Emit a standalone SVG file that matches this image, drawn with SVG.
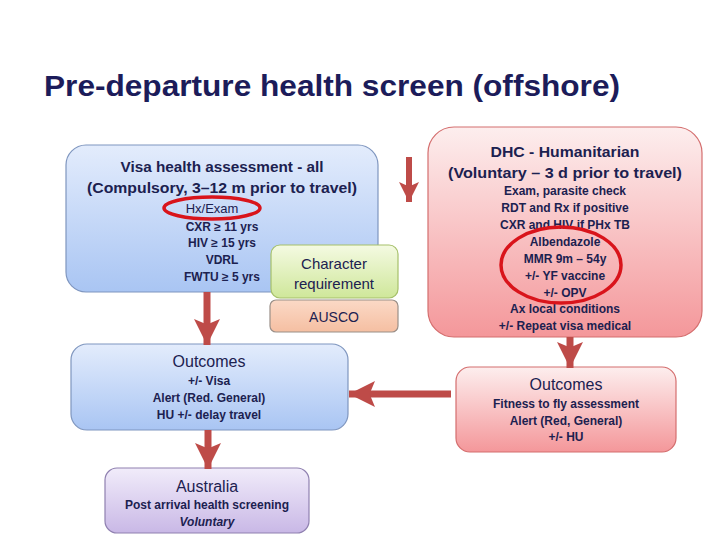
<svg xmlns="http://www.w3.org/2000/svg" width="720" height="540" viewBox="0 0 720 540">
<defs>
<linearGradient id="gBlue" x1="0" y1="0" x2="0" y2="1"><stop offset="0" stop-color="#e3ecfc"/><stop offset="1" stop-color="#a9c5f3"/></linearGradient>
<linearGradient id="gPink" x1="0" y1="0" x2="0" y2="1"><stop offset="0" stop-color="#fdeeee"/><stop offset="1" stop-color="#f4979a"/></linearGradient>
<linearGradient id="gGreen" x1="0" y1="0" x2="0" y2="1"><stop offset="0" stop-color="#f4fae2"/><stop offset="1" stop-color="#cfe79a"/></linearGradient>
<linearGradient id="gPeach" x1="0" y1="0" x2="0" y2="1"><stop offset="0" stop-color="#fbd9c6"/><stop offset="1" stop-color="#f5bfa2"/></linearGradient>
<linearGradient id="gPurple" x1="0" y1="0" x2="0" y2="1"><stop offset="0" stop-color="#f1ecfa"/><stop offset="1" stop-color="#c9b8e6"/></linearGradient>
<marker id="ah" markerUnits="userSpaceOnUse" markerWidth="26" markerHeight="26" viewBox="0 0 24 24" refX="24" refY="12" orient="auto">
<path d="M0,0 L24,12 L0,24 L5,12 Z" fill="#be4b48"/>
</marker>
<marker id="ahs" markerUnits="userSpaceOnUse" markerWidth="20" markerHeight="20" viewBox="0 0 18 18" refX="18" refY="9" orient="auto">
<path d="M0,0 L18,9 L0,18 L4,9 Z" fill="#be4b48"/>
</marker>
</defs>
<style>
text{font-family:"Liberation Sans",Arial,sans-serif;text-anchor:middle;fill:#1c2150}
.t{font-size:30px;font-weight:bold;text-anchor:start;fill:#1c1c5a}
.h{font-size:15px;font-weight:bold}
.n{font-size:15px}
.b{font-size:12px;font-weight:bold}
.r{font-size:13px}
.box{stroke-width:1.2}
.ring{fill:none;stroke:#d9141b;stroke-width:3.5}
.conn line{stroke:#be4b48;stroke-width:7}
</style>
<text class="t" x="44" y="96" textLength="576" lengthAdjust="spacingAndGlyphs">Pre-departure health screen (offshore)</text>

<g id="visa">
<rect class="box" x="66" y="145" width="312" height="147" rx="20" fill="url(#gBlue)" stroke="#7f96bf"/>
<text class="h" x="222" y="172" textLength="203" lengthAdjust="spacingAndGlyphs">Visa health assessment - all</text>
<text class="h" x="222" y="193" textLength="270" lengthAdjust="spacingAndGlyphs">(Compulsory, 3–12 m prior to travel)</text>
<text class="r" x="212" y="213">Hx/Exam</text>
<text class="b" x="222" y="231">CXR ≥ 11 yrs</text>
<text class="b" x="222" y="247">HIV  ≥ 15 yrs</text>
<text class="b" x="222" y="264">VDRL</text>
<text class="b" x="222" y="281">FWTU ≥ 5 yrs</text>
<ellipse class="ring" cx="212" cy="208" rx="48" ry="11"/>
</g>

<g id="character">
<rect class="box" x="271" y="245" width="127" height="53" rx="9" fill="url(#gGreen)" stroke="#a6c06a"/>
<text class="n" x="334" y="269">Character</text>
<text class="n" x="334" y="289">requirement</text>
</g>

<g id="ausco">
<rect class="box" x="270" y="300" width="128" height="32" rx="6" fill="url(#gPeach)" stroke="#9a8f88"/>
<text class="n" x="334" y="322" style="font-size:14px">AUSCO</text>
</g>

<g id="dhc">
<rect class="box" x="428" y="127" width="274" height="210" rx="26" fill="url(#gPink)" stroke="#d46e6e"/>
<text class="h" x="565" y="157" textLength="149" lengthAdjust="spacingAndGlyphs">DHC - Humanitarian</text>
<text class="h" x="565" y="178" textLength="234" lengthAdjust="spacingAndGlyphs">(Voluntary – 3 d prior to travel)</text>
<text class="b" x="565" y="195">Exam, parasite check</text>
<text class="b" x="565" y="212">RDT and Rx if positive</text>
<text class="b" x="565" y="229">CXR and HIV if PHx TB</text>
<text class="b" x="565" y="246">Albendazole</text>
<text class="b" x="565" y="263">MMR 9m – 54y</text>
<text class="b" x="565" y="280">+/- YF vaccine</text>
<text class="b" x="565" y="297">+/- OPV</text>
<text class="b" x="565" y="313">Ax local conditions</text>
<text class="b" x="565" y="330">+/- Repeat visa medical</text>
<ellipse class="ring" cx="561" cy="265" rx="60" ry="38"/>
</g>

<g id="outcomes-left">
<rect class="box" x="71" y="344" width="277" height="86" rx="16" fill="url(#gBlue)" stroke="#7f96bf"/>
<text class="n" x="209" y="367" style="font-size:16px">Outcomes</text>
<text class="b" x="209" y="385">+/- Visa</text>
<text class="b" x="209" y="402">Alert (Red. General)</text>
<text class="b" x="209" y="419">HU +/- delay travel</text>
</g>

<g id="outcomes-right">
<rect class="box" x="456" y="367" width="220" height="85" rx="14" fill="url(#gPink)" stroke="#d46e6e"/>
<text class="n" x="566" y="390" style="font-size:16px">Outcomes</text>
<text class="b" x="566" y="408">Fitness to fly assessment</text>
<text class="b" x="566" y="425">Alert (Red, General)</text>
<text class="b" x="566" y="441">+/- HU</text>
</g>

<g id="australia">
<rect class="box" x="105" y="468" width="204" height="65" rx="12" fill="url(#gPurple)" stroke="#8f80b0"/>
<text class="n" x="207" y="492" style="font-size:16px">Australia</text>
<text class="b" x="207" y="509">Post arrival health screening</text>
<text class="b" x="207" y="526" font-style="italic">Voluntary</text>
</g>

<g class="conn" id="connectors">
<line x1="207" y1="292" x2="207" y2="345" marker-end="url(#ah)"/>
<line x1="208" y1="430" x2="208" y2="469" marker-end="url(#ah)"/>
<line x1="570" y1="337" x2="570" y2="368" marker-end="url(#ah)"/>
<line x1="451" y1="394" x2="349" y2="394" marker-end="url(#ah)"/>
<line x1="409" y1="157" x2="409" y2="202" marker-end="url(#ahs)" style="stroke-width:6"/>
</g>
</svg>
